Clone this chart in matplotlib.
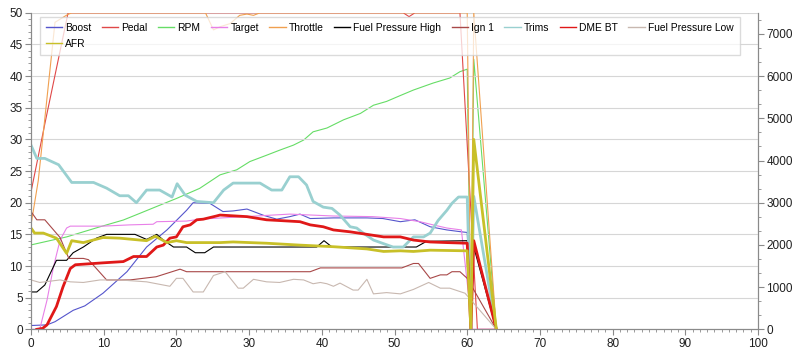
import matplotlib
matplotlib.use("Agg")
import matplotlib.pyplot as plt
from matplotlib.ticker import MultipleLocator

plt.rcParams["font.family"] = ["Liberation Sans", "DejaVu Sans"]
plt.rcParams["font.size"] = 8.5

# series (x = time, left axis units; RPM on the right axis)
boost_x = [0, 2.2, 3.3, 5.8, 7.4, 9.9, 13.2, 15.9, 18.7, 21.4, 22.3, 24.6, 26.4, 27.8, 29.7, 32, 33.8,
           35.6, 37, 38.4, 41.6, 46.2, 48.4, 50.8, 52.8, 54.9, 57.2, 59.2, 60, 60.5, 60.9, 64]
boost_y = [0.6, 0.7, 1.2, 3, 3.7, 5.7, 9.1, 13, 15.7, 18.8, 20, 19.9, 18.6, 18.7, 19, 18, 17.4,
           17.8, 18.2, 17.5, 17.6, 17.6, 17.5, 17, 17.3, 16.2, 15.7, 15.4, 15.3, 0, 14, 0]

pedal_x = [0, 2, 5.1, 51.2, 52, 52.8, 59.0, 61.4, 64]
pedal_y = [21.7, 33, 50, 50, 49.4, 50, 50, 0, 0]

rpm_x = [0, 4.9, 9.5, 12.7, 15, 17.7, 20, 23.2, 26, 28.3, 30.1, 32.4, 34.2, 36.1, 37.5, 38.8, 40.7,
         43, 45.3, 47.1, 48.9, 50.8, 52.6, 55.3, 57.6, 59, 60, 60.5, 60.9, 64]
rpm_y = [2000, 2190, 2430, 2590, 2750, 2940, 3100, 3340, 3660, 3780, 3975, 4125, 4245, 4365, 4485,
         4680, 4770, 4965, 5115, 5310, 5400, 5540, 5670, 5835, 5955, 6105, 6165, 0, 6400, 0]

target_x = [0, 1.2, 2.2, 3.1, 4.0, 4.9, 5.4, 9.9, 13.6, 16.8, 17.3, 21.4, 23.2, 27.8, 35.6, 41.6,
            47, 50.8, 53.5, 55.3, 57.2, 59.2, 60.7, 64]
target_y = [0, 0, 4.6, 9.9, 14.1, 16, 16.3, 16.3, 16.5, 16.6, 17, 17.1, 17.4, 17.7, 18.2, 17.9,
            17.8, 17.5, 17, 16.5, 16, 15.7, 0, 0]

throttle_x = [0, 1, 3.3, 5, 5.6, 24, 25.1, 26, 27.4, 28.7, 29.7, 30.6, 31.5, 60, 60.5, 60.9, 64]
throttle_y = [16.5, 23.5, 48.5, 49.7, 50, 50, 47.3, 47.8, 48.3, 49.6, 49.8, 49.6, 50, 50, 0, 50, 0]

fph_x = [0, 0.8, 1.9, 3.5, 4.9, 5.8, 7.2, 9, 10.4, 14.3, 15.9, 17.3, 18.2, 19.6, 21.4, 22.6, 23.9,
         25.1, 39.3, 40.3, 41.4, 53, 54.4, 60, 60.5, 60.9, 64]
fph_y = [5.9, 5.9, 7, 10.9, 10.9, 12.1, 13, 14.4, 15, 15, 14.2, 15, 14.1, 13, 13, 12.1, 12.1,
         13, 13, 14, 13, 13, 13.9, 14, 0, 13, 0]

ign1_x = [0, 0.8, 1.9, 3.1, 4.0, 5.2, 7.2, 7.9, 10.4, 13.6, 17.2, 20.5, 21.4, 38.4, 39.8, 51,
          52.6, 53.3, 54.9, 56.3, 57.2, 57.9, 59, 60, 64]
ign1_y = [18.6, 17.3, 17.3, 15.7, 14.5, 11.2, 11.2, 11.0, 7.8, 7.8, 8.3, 9.5, 9.1, 9.1, 9.7, 9.7,
          10.4, 10.4, 8.05, 8.6, 8.6, 9.1, 9.1, 8.05, 0]

trims_x = [0, 0.8, 1.9, 3.8, 5.6, 8.6, 10.4, 12.2, 13.4, 14.5, 15.9, 17.7, 19.4, 20.1, 21.2, 22.8,
           25.1, 26.5, 27.8, 31.5, 33.1, 34.5, 35.6, 36.8, 37.9, 38.8, 40.2, 41.4, 42.5, 43.9, 44.8,
           45.7, 47.1, 49.8, 51.2, 52.6, 54, 54.9, 56, 57.2, 57.9, 58.8, 60, 60.5, 60.9, 64]
trims_y = [29.1, 27, 27, 26, 23.2, 23.2, 22.3, 21.1, 21.1, 20, 22, 22, 20.9, 23, 21.2, 20.2,
           20, 22, 23.1, 23.1, 22, 22, 24.1, 24.1, 22.8, 20.2, 19.3, 19.1, 18.05, 16.2, 16,
           15.2, 14.1, 13, 13, 14.6, 14.6, 15.2, 17.2, 18.8, 19.9, 20.9, 20.9, 0, 21, 0]

dme_x = [0.8, 1.6, 2.2, 3.5, 4.4, 5.4, 6.1, 9.9, 12.7, 14.1, 15.9, 17.3, 18.2, 19.1, 20, 20.9, 21.9,
         22.8, 23.7, 25.5, 26, 29.7, 32.4, 37, 38.4, 40.2, 41.6, 43.9, 46.2, 48.5, 50.8, 52.6,
         54.9, 57.2, 60, 60.5, 60.9, 64]
dme_y = [0, 0.15, 0.7, 3.6, 6.7, 9.6, 10.2, 10.5, 10.7, 11.5, 11.5, 13, 13.3, 14.4, 14.6, 16.2, 16.5,
         17.3, 17.4, 17.9, 18.05, 17.8, 17.3, 17, 16.5, 16.2, 15.7, 15.4, 15, 14.6, 14.6, 14.1,
         13.8, 13.7, 13.6, 0, 14, 0]

fpl_x = [0, 1.2, 4, 5.4, 7.2, 9.5, 12.2, 15.9, 19.1, 20, 20.9, 22.3, 23.7, 25.1, 26.7, 28.5, 29.2,
         30.6, 32.4, 34.2, 36.1, 37.5, 38.8, 39.8, 40.7, 41.6, 42.5, 44.3, 45, 46.2, 47.1, 48.9,
         50.8, 52.6, 54.7, 56.3, 57.6, 59.7, 64]
fpl_y = [7.8, 7.4, 7.8, 7.5, 7.4, 7.8, 7.8, 7.5, 6.8, 8.05, 8.05, 5.9, 5.9, 8.5, 9.1, 6.5, 6.5,
         7.9, 7.5, 7.4, 7.9, 7.8, 7.2, 7.4, 7.2, 6.8, 7.3, 6.2, 6.2, 7.9, 5.6, 5.8,
         5.6, 6.3, 7.4, 6.5, 6.5, 5.7, 0]

afr_x = [0, 0.5, 1.7, 3.5, 4.9, 5.6, 7.2, 9.9, 12.2, 15.9, 17.1, 18.7, 20, 21.4, 26, 27.8, 32.4,
         37, 41.6, 46.2, 48.5, 50.8, 52.6, 54.9, 60, 60.5, 60.9, 64]
afr_y = [16, 15.2, 15.2, 14.4, 12, 14, 13.7, 14.5, 14.4, 14, 14.7, 13.7, 14, 13.7, 13.7, 13.8, 13.6,
         13.3, 13.05, 12.7, 12.3, 12.4, 12.3, 12.5, 12.4, 0, 30, 0]

fig = plt.figure(figsize=(8.0, 3.59), dpi=100)
ax = fig.add_axes([0.03875, 0.0827, 0.9088, 0.8816])
ax2 = ax.twinx()
ax.set_zorder(2)
ax.patch.set_visible(False)
ax2.set_facecolor("#fafafa")

h = {}
h["Boost"], = ax.plot(boost_x, boost_y, color="#5555cc", lw=0.8)
h["Pedal"], = ax.plot(pedal_x, pedal_y, color="#e04848", lw=0.8)
h["RPM"], = ax2.plot(rpm_x, rpm_y, color="#66dd66", lw=0.8)
h["Target"], = ax.plot(target_x, target_y, color="#e880e8", lw=0.8)
h["Throttle"], = ax.plot(throttle_x, throttle_y, color="#f0a050", lw=0.8)
h["Fuel Pressure High"], = ax.plot(fph_x, fph_y, color="#000000", lw=0.8)
h["Ign 1"], = ax.plot(ign1_x, ign1_y, color="#a84848", lw=0.8)
h["Trims"], = ax.plot(trims_x, trims_y, color="#99d0d0", lw=2.0)
h["DME BT"], = ax.plot(dme_x, dme_y, color="#e01818", lw=2.0)
h["Fuel Pressure Low"], = ax.plot(fpl_x, fpl_y, color="#c8b8b0", lw=0.8)
h["AFR"], = ax.plot(afr_x, afr_y, color="#c8c028", lw=2.0)

ax.set_xlim(0, 100)
ax.set_ylim(0, 50)
ax2.set_ylim(0, 7500)

ax.yaxis.set_major_locator(MultipleLocator(5))
ax.yaxis.set_minor_locator(MultipleLocator(1))
ax.xaxis.set_major_locator(MultipleLocator(10))
ax.xaxis.set_minor_locator(MultipleLocator(1))
ax2.yaxis.set_major_locator(MultipleLocator(1000))
ax2.yaxis.set_minor_locator(MultipleLocator(1000 / 3))
ax.grid(axis="y", color="#d6d6d6", lw=0.8)

for a in (ax, ax2):
    a.spines["top"].set_visible(False)
    for s in ("left", "right", "bottom"):
        a.spines[s].set_color("#8a8a8a")
    a.tick_params(which="major", length=4, color="#8a8a8a", labelcolor="#202020", pad=2)
    a.tick_params(which="minor", length=2, color="#8a8a8a")

order = ["Boost", "AFR", "Pedal", "RPM", "Target", "Throttle", "Fuel Pressure High",
         "Ign 1", "Trims", "DME BT", "Fuel Pressure Low"]
leg = ax.legend([h[k] for k in order], order, ncol=10, loc="upper left",
                bbox_to_anchor=(0.012, 0.988), borderaxespad=0, frameon=True,
                fancybox=False, framealpha=0.75, edgecolor="#d0d0d0",
                prop={"size": 7.4},
                handlelength=1.6, handletextpad=0.3, columnspacing=1.0,
                labelspacing=0.6, borderpad=0.6)
for line in leg.get_lines():
    line.set_linewidth(1.0)

fig.savefig("out.png", dpi=100)
